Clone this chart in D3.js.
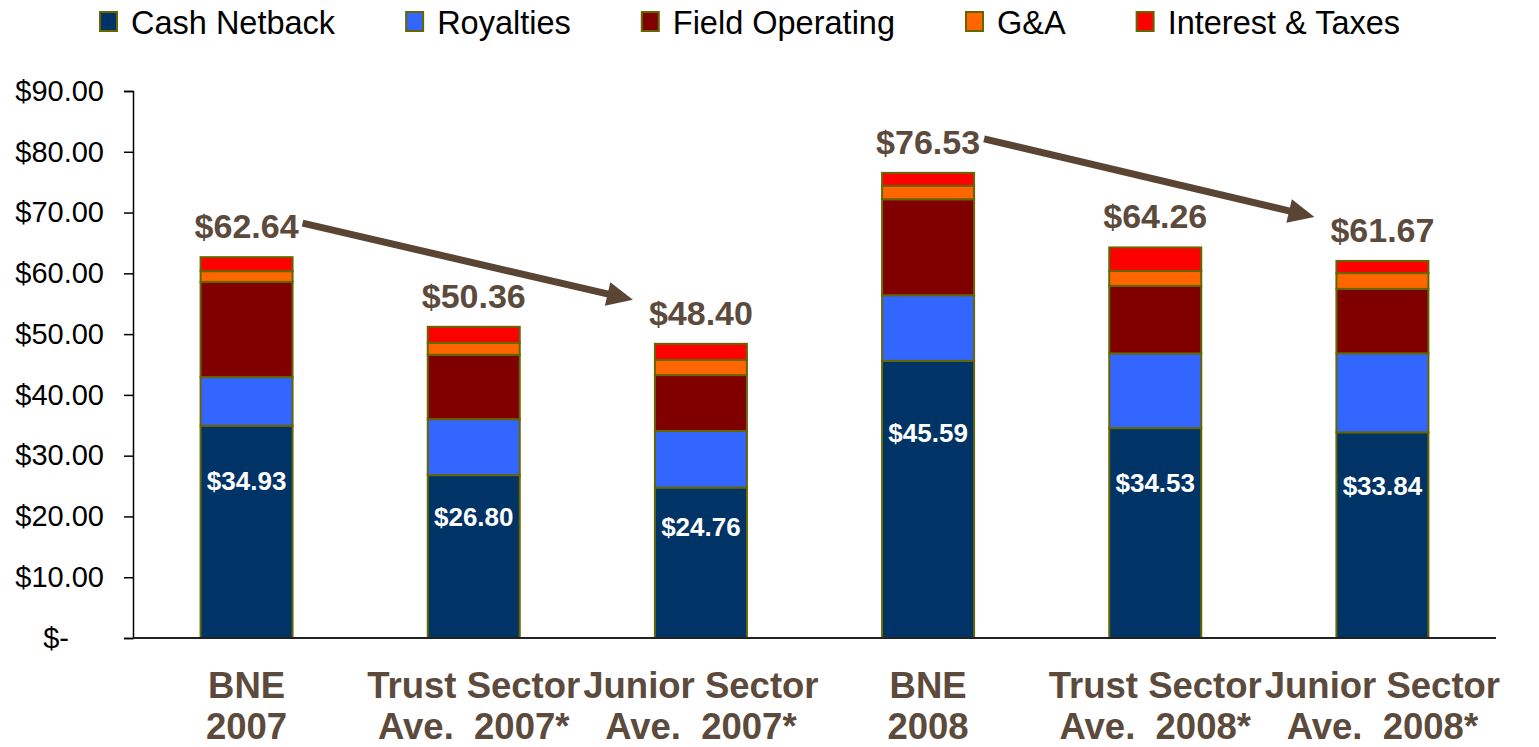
<!DOCTYPE html>
<html>
<head>
<meta charset="utf-8">
<script src="https://cdn.jsdelivr.net/npm/d3@7"></script>
<style>
  body { margin: 0; background: #fff; }
  text { font-family: "Liberation Sans", Arial, sans-serif; }
</style>
</head>
<body>
<div id="chart"></div>
<script>
// categories (two text lines each)
var categories = ["BNE 2007", "Trust 2007", "Junior 2007", "BNE 2008", "Trust 2008", "Junior 2008"];
var catLine1 = ["BNE", "Trust Sector", "Junior Sector", "BNE", "Trust Sector", "Junior Sector"];
var catLine2 = ["2007", "Ave.  2007*", "Ave.  2007*", "2008", "Ave.  2008*", "Ave.  2008*"];

// stacked series ($/boe)
var seriesNames = ["Cash Netback", "Royalties", "Field Operating", "G&A", "Interest & Taxes"];
var cashNetback = [34.93, 26.80, 24.76, 45.59, 34.53, 33.84];
var royalties   = [8.00, 9.20, 9.30, 10.80, 12.30, 13.00];
var fieldOp     = [15.67, 10.60, 9.20, 15.80, 11.10, 10.60];
var gAndA       = [1.76, 1.97, 2.50, 2.20, 2.45, 2.60];
var interestTax = [2.30, 2.63, 2.64, 2.14, 3.88, 2.00];

// total labels over each bar
var totalLabels = ["$62.64", "$50.36", "$48.40", "$76.53", "$64.26", "$61.67"];

// arrows between total labels (category index pairs)
var arrows = [[0, 2], [3, 5]];

var yTicks = [0, 10, 20, 30, 40, 50, 60, 70, 80, 90];

var colors = ["#003366", "#3366ff", "#800000", "#ff6600", "#ff0000"];
var brown = "#5c4a3d";

var W = 1539, H = 747;
var svg = d3.select("#chart").append("svg")
    .attr("width", W)
    .attr("height", H);

var x = d3.scaleBand().domain(categories).range([133, 1496])
    .paddingInner(0.595).paddingOuter(0.2975);
var y = d3.scaleLinear().domain([0, 90]).range([638, 91]);

// build rows for stack
var rows = categories.map(function(c, i) {
    return {cat: c, "Cash Netback": cashNetback[i], "Royalties": royalties[i],
        "Field Operating": fieldOp[i], "G&A": gAndA[i], "Interest & Taxes": interestTax[i]};
});
var stacked = d3.stack().keys(seriesNames)(rows);

// y axis
var yAxis = svg.append("g")
    .attr("transform", "translate(133,0)")
    .call(d3.axisLeft(y).tickValues(yTicks).tickSize(9).tickPadding(20)
        .tickFormat(function(d) { return d === 0 ? "$-" : "$" + d3.format(".2f")(d); }));
yAxis.select(".domain").attr("stroke", "#000").attr("stroke-width", 1.5);
yAxis.selectAll(".tick line").attr("stroke", "#000").attr("stroke-width", 1.5);
yAxis.selectAll(".tick text")
    .attr("font-size", 29)
    .attr("fill", "#000")
    .style("font-family", "'Liberation Sans', Arial, sans-serif")
    .attr("x", function(d) { return d === 0 ? -64 : -29; });

// bars
svg.append("g").selectAll("g")
    .data(stacked)
    .enter().append("g")
    .attr("fill", function(d, i) { return colors[i]; })
    .selectAll("rect")
    .data(function(d) { return d; })
    .enter().append("rect")
    .attr("x", function(d) { return x(d.data.cat); })
    .attr("width", x.bandwidth())
    .attr("y", function(d) { return y(d[1]); })
    .attr("height", function(d) { return y(d[0]) - y(d[1]); })
    .attr("stroke", "#666600")
    .attr("stroke-width", 2);

// x axis baseline
svg.append("line")
    .attr("x1", 133).attr("x2", 1496)
    .attr("y1", y(0)).attr("y2", y(0))
    .attr("stroke", "#222").attr("stroke-width", 2);

// cash netback labels inside bars
svg.append("g").selectAll("text")
    .data(categories)
    .enter().append("text")
    .attr("x", function(d) { return x(d) + x.bandwidth() / 2; })
    .attr("y", function(d, i) { return y(cashNetback[i] * 0.74) + 9; })
    .attr("text-anchor", "middle")
    .attr("font-size", 26)
    .attr("font-weight", "bold")
    .attr("fill", "#fff")
    .text(function(d, i) { return "$" + cashNetback[i].toFixed(2); });

// totals above bars
var barTop = categories.map(function(c, i) {
    return cashNetback[i] + royalties[i] + fieldOp[i] + gAndA[i] + interestTax[i];
});
function labelBase(i) { return y(barTop[i]) - 19; }
svg.append("g").selectAll("text")
    .data(totalLabels)
    .enter().append("text")
    .attr("x", function(d, i) { return x(categories[i]) + x.bandwidth() / 2; })
    .attr("y", function(d, i) { return labelBase(i); })
    .attr("text-anchor", "middle")
    .attr("font-size", 34)
    .attr("font-weight", "bold")
    .attr("fill", brown)
    .text(function(d) { return d; });

// arrows
var arrowG = svg.append("g");
arrows.forEach(function(a) {
    var x0 = x(categories[a[0]]) + x.bandwidth() / 2 + 56;
    var y0 = labelBase(a[0]) - 15;
    var x1 = x(categories[a[1]]) + x.bandwidth() / 2 - 68;
    var y1 = labelBase(a[1]) - 25;
    var ang = Math.atan2(y1 - y0, x1 - x0);
    var hl = 26, hw = 12;
    var bx = x1 - hl * Math.cos(ang), by = y1 - hl * Math.sin(ang);
    arrowG.append("line")
        .attr("x1", x0).attr("y1", y0)
        .attr("x2", bx + 2 * Math.cos(ang)).attr("y2", by + 2 * Math.sin(ang))
        .attr("stroke", "#5a4535").attr("stroke-width", 7);
    var px = -Math.sin(ang) * hw, py = Math.cos(ang) * hw;
    arrowG.append("polygon")
        .attr("points", [[x1, y1], [bx + px, by + py], [bx - px, by - py]].map(function(p) { return p.join(","); }).join(" "))
        .attr("fill", "#5a4535");
});

// category labels (two lines)
var catText = svg.append("g").selectAll("text")
    .data(categories)
    .enter().append("text")
    .attr("text-anchor", "middle")
    .attr("font-size", 36.5)
    .attr("font-weight", "bold")
    .attr("fill", brown)
    .style("white-space", "pre");
catText.append("tspan")
    .attr("x", function(d) { return x(d) + x.bandwidth() / 2; })
    .attr("y", 698)
    .text(function(d, i) { return catLine1[i]; });
catText.append("tspan")
    .attr("x", function(d) { return x(d) + x.bandwidth() / 2; })
    .attr("y", 739)
    .text(function(d, i) { return catLine2[i]; });

// legend
var legend = svg.append("g");
var lx = 100;
seriesNames.forEach(function(name, i) {
    legend.append("rect")
        .attr("x", lx).attr("y", 12)
        .attr("width", 17).attr("height", 19)
        .attr("fill", colors[i])
        .attr("stroke", "#666600").attr("stroke-width", 2);
    var t = legend.append("text")
        .attr("x", lx + 31).attr("y", 34)
        .attr("font-size", 32.5)
        .attr("fill", "#000")
        .text(name);
    lx = lx + 31 + t.node().getComputedTextLength() + 71;
});
</script>
</body>
</html>
